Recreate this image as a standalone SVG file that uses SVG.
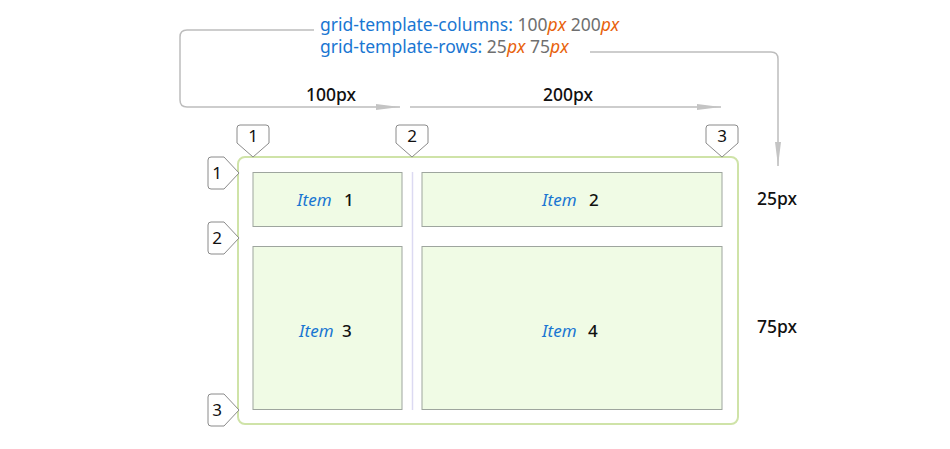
<svg xmlns="http://www.w3.org/2000/svg" width="950" height="449" viewBox="0 0 950 449">
<defs>
<marker id="ah" markerWidth="24" markerHeight="8" refX="24" refY="4" orient="auto" markerUnits="userSpaceOnUse">
<path d="M0,1 L24,4 L0,7 Z" fill="#c4c4c4"/>
</marker>
<style>
.t{font-family:"Noto Sans","Open Sans",sans-serif}
.code{font-size:17.5px}
.kw{fill:#1a76d2}
.num{fill:#6f6f6f}
.px{fill:#e8620c;font-style:italic}
.lbl{font-size:17.5px;fill:#111;font-weight:500}
.conn{fill:none;stroke:#bdbdbd;stroke-width:1.5}
.tag{fill:#fff;stroke:#8a8a8a;stroke-width:1}
.tagt{font-size:17px;fill:#111;text-anchor:middle}
.item{fill:#f0fbe5;stroke:#9ea59e;stroke-width:1}
.itemt{font-size:17px}
.it{fill:#1a76d2;font-style:italic}
.in{fill:#111;font-weight:500}
</style>
</defs>
<rect width="950" height="449" fill="#fff"/>

<g id="code">
<text class="t code" x="320" y="31"><tspan class="kw">grid-template-columns:</tspan><tspan class="num"> 100</tspan><tspan class="px">px</tspan><tspan class="num"> 200</tspan><tspan class="px">px</tspan></text>
<text class="t code" x="320" y="53"><tspan class="kw">grid-template-rows:</tspan><tspan class="num"> 25</tspan><tspan class="px">px</tspan><tspan class="num"> 75</tspan><tspan class="px">px</tspan></text>
</g>

<g id="connectors">
<path class="conn" d="M314,30 H187 Q180,30 180,37 V100 Q180,107 187,107 H400" marker-end="url(#ah)"/>
<path class="conn" d="M410,107 H721" marker-end="url(#ah)"/>
<path class="conn" d="M590,52 H771 Q778,52 778,59 V166" marker-end="url(#ah)"/>
</g>

<g id="col-labels">
<text class="t lbl" x="331" y="101" text-anchor="middle">100px</text>
<text class="t lbl" x="568" y="101" text-anchor="middle">200px</text>
</g>
<g id="row-labels">
<text class="t lbl" x="757" y="205">25px</text>
<text class="t lbl" x="757" y="333">75px</text>
</g>

<g id="container">
<rect x="238" y="157" width="500" height="267" rx="7" fill="#fff" stroke="#cfe3a8" stroke-width="2"/>
<line x1="412.5" y1="172" x2="412.5" y2="410" stroke="#dcdaf2" stroke-width="1.5"/>
</g>

<g id="item1">
<rect class="item" x="253" y="172.5" width="149" height="54"/>
<text class="t itemt" x="297" y="206"><tspan class="it">Item</tspan><tspan class="in" x="344">1</tspan></text>
</g>
<g id="item2">
<rect class="item" x="422" y="172.5" width="300" height="54"/>
<text class="t itemt" x="542" y="206"><tspan class="it">Item</tspan><tspan class="in" x="589">2</tspan></text>
</g>
<g id="item3">
<rect class="item" x="253" y="246.5" width="149" height="163"/>
<text class="t itemt" x="299" y="337"><tspan class="it">Item</tspan><tspan class="in" x="342">3</tspan></text>
</g>
<g id="item4">
<rect class="item" x="422" y="246.5" width="300" height="163"/>
<text class="t itemt" x="542" y="337"><tspan class="it">Item</tspan><tspan class="in" x="588">4</tspan></text>
</g>

<g id="col-line-1">
<path class="tag" d="M237,143 V128 Q237,125 240,125 H266 Q269,125 269,128 V143 L253,157 Z"/>
<text class="t tagt" x="253" y="142">1</text>
</g>
<g id="col-line-2">
<path class="tag" d="M396,143 V128 Q396,125 399,125 H425 Q428,125 428,128 V143 L412,157 Z"/>
<text class="t tagt" x="412" y="142">2</text>
</g>
<g id="col-line-3">
<path class="tag" d="M706,143 V128 Q706,125 709,125 H735 Q738,125 738,128 V143 L722,157 Z"/>
<text class="t tagt" x="722" y="142">3</text>
</g>

<g id="row-line-1">
<path class="tag" d="M224,157 H211 Q208,157 208,160 V186 Q208,189 211,189 H224 L239,173 Z"/>
<text class="t tagt" x="217" y="179">1</text>
</g>
<g id="row-line-2">
<path class="tag" d="M224,222 H211 Q208,222 208,225 V251 Q208,254 211,254 H224 L239,238 Z"/>
<text class="t tagt" x="217" y="244">2</text>
</g>
<g id="row-line-3">
<path class="tag" d="M224,394 H211 Q208,394 208,397 V423 Q208,426 211,426 H224 L239,410 Z"/>
<text class="t tagt" x="217" y="416">3</text>
</g>
</svg>
